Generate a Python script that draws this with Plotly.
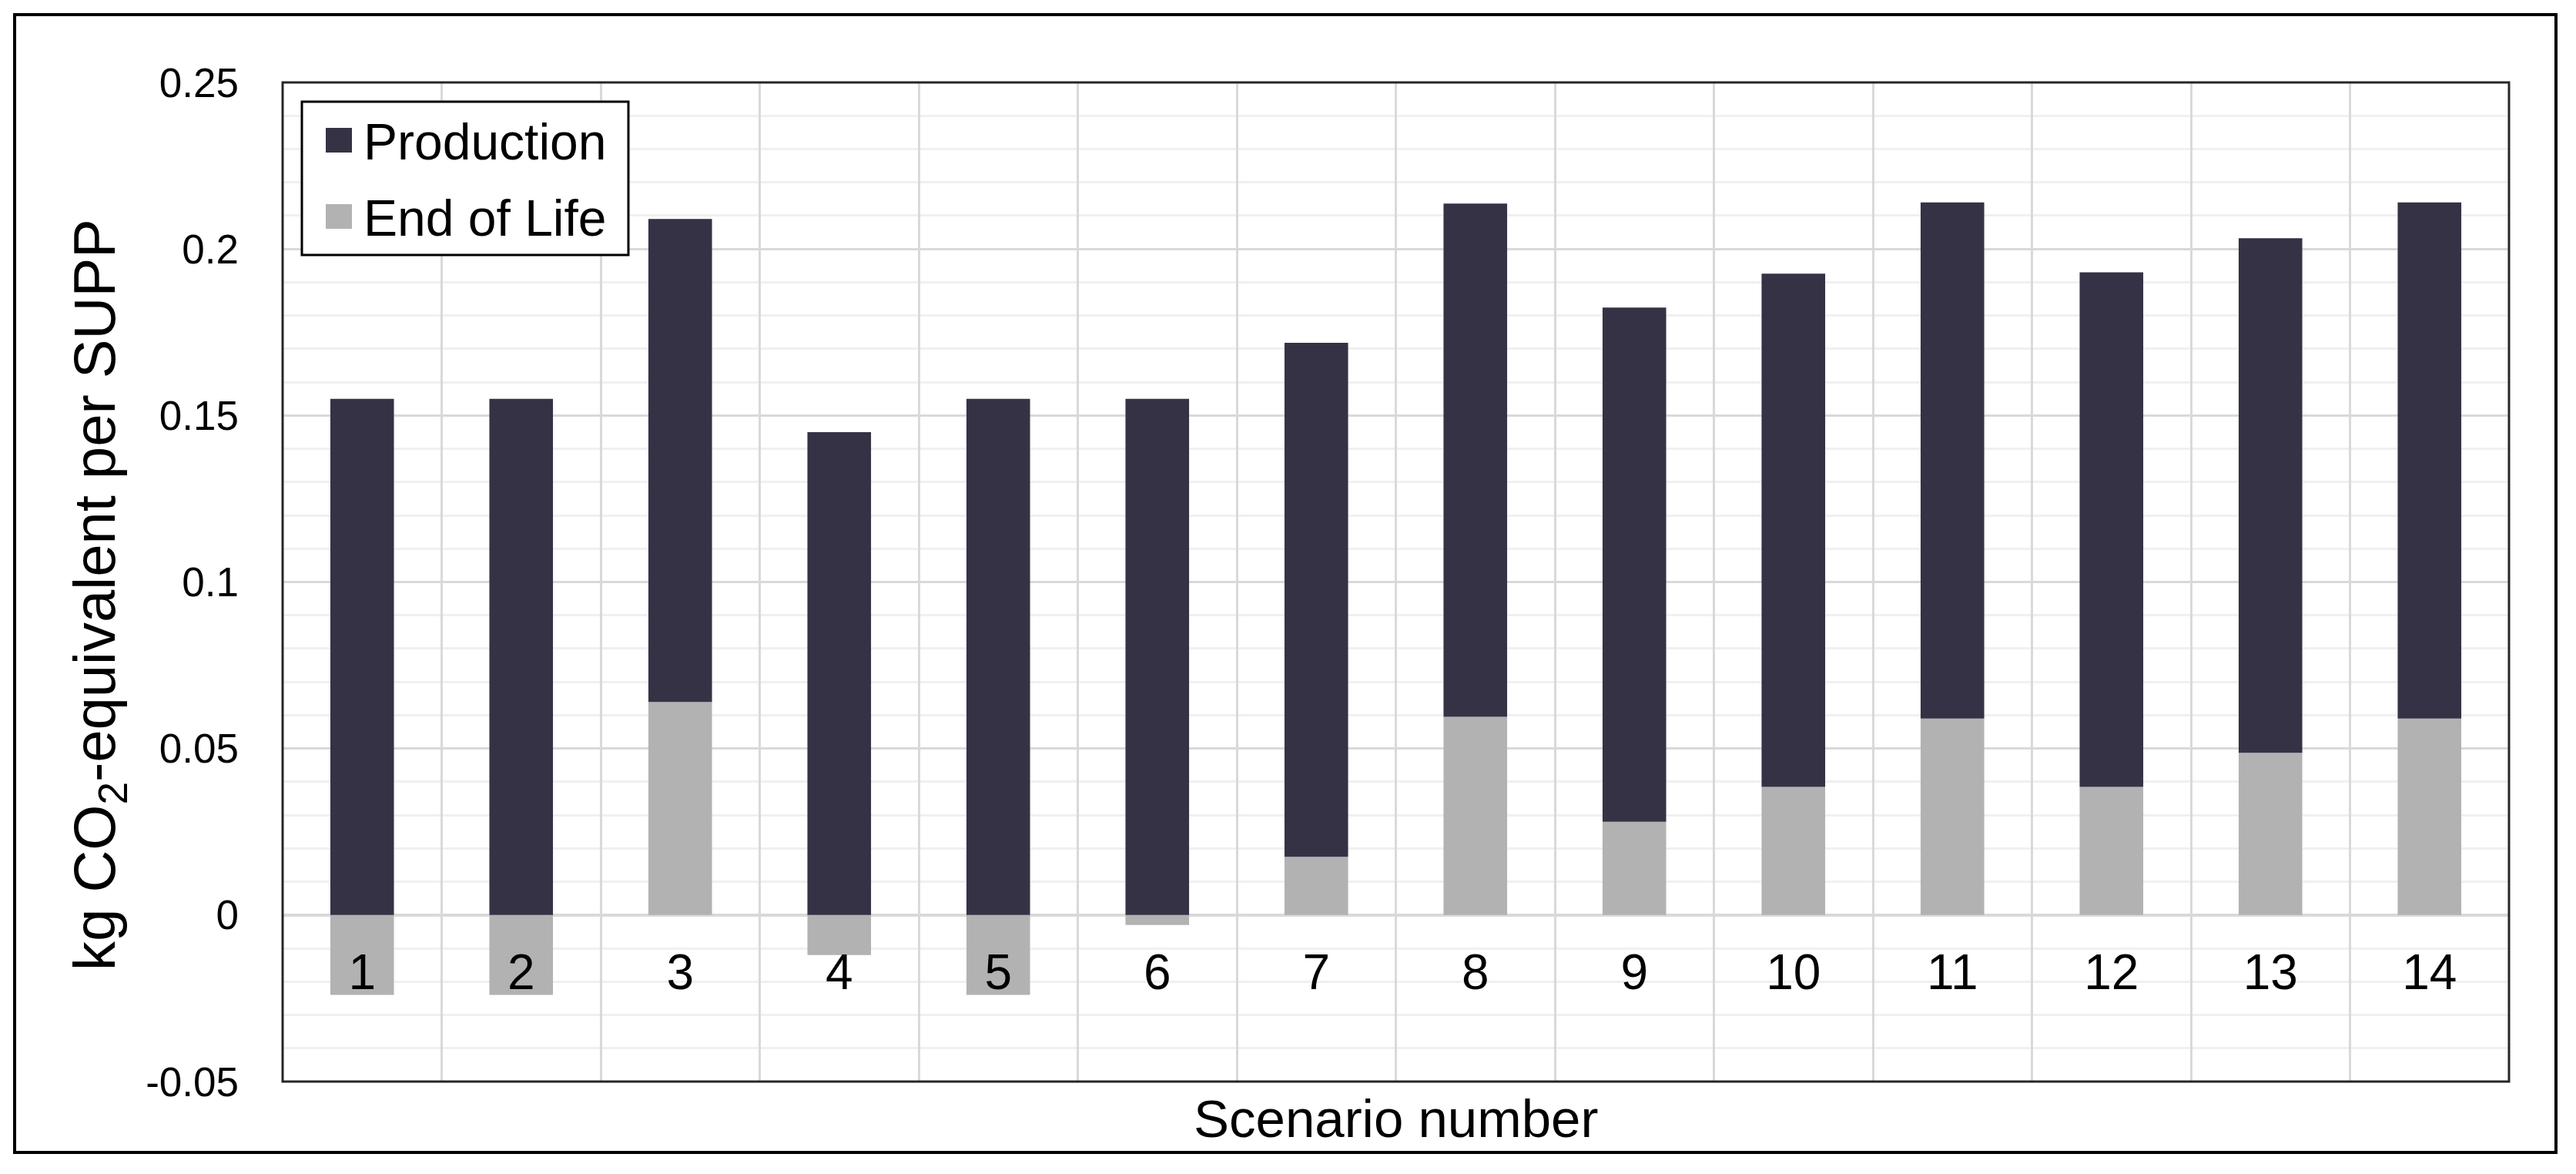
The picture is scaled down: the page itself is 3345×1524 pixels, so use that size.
import plotly.graph_objects as go

# ---- data ----
scenarios = ["1", "2", "3", "4", "5", "6", "7", "8", "9", "10", "11", "12", "13", "14"]
production = [0.155, 0.155, 0.145, 0.145, 0.155, 0.155, 0.1543, 0.1541, 0.1544, 0.1541, 0.155, 0.1545, 0.1545, 0.155]
end_of_life = [-0.024, -0.024, 0.064, -0.012, -0.024, -0.003, 0.0175, 0.0595, 0.028, 0.0385, 0.059, 0.0385, 0.0487, 0.059]
y_tick_vals = [-0.05, 0, 0.05, 0.1, 0.15, 0.2, 0.25]
y_tick_text = ["-0.05", "0", "0.05", "0.1", "0.15", "0.2", "0.25"]
y_range = [-0.05, 0.25]
series_names = ["Production", "End of Life"]
series_colors = ["#363245", "#b2b2b2"]

FONT = "Arial, Liberation Sans, sans-serif"
# the page body has an 8px margin; size the figure so it fits the window
OFF = 8
W, H = 3345 - 2 * OFF, 1524 - 2 * OFF
PLOT_L, PLOT_R, PLOT_T, PLOT_B = 367, 3258, 107, 1404   # window pixel coords
ML = PLOT_L - OFF
MT = PLOT_T - OFF
PW = PLOT_R - PLOT_L
PH = PLOT_B - PLOT_T
MR = W - ML - PW
MB = H - MT - PH


def px_to_paper_x(px):
    return (px - PLOT_L) / PW


def px_to_paper_y(py):
    return (PLOT_B - py) / PH


fig = go.Figure()
fig.add_trace(go.Bar(x=scenarios, y=end_of_life, name=series_names[1],
                     marker=dict(color=series_colors[1], line=dict(width=0)),
                     showlegend=False))
fig.add_trace(go.Bar(x=scenarios, y=production, name=series_names[0],
                     marker=dict(color=series_colors[0], line=dict(width=0)),
                     showlegend=False))

zero_pos = (0 - y_range[0]) / (y_range[1] - y_range[0])

fig.update_layout(
    width=W, height=H,
    margin=dict(l=ML, r=MR, t=MT, b=MB, autoexpand=False),
    paper_bgcolor="white", plot_bgcolor="white",
    barmode="relative", bargap=0.6,
    font=dict(family=FONT, color="black"),
    showlegend=False,
    xaxis=dict(
        type="category", automargin=False,
        anchor="free", position=zero_pos,
        showline=False, zeroline=False,
        showgrid=True, gridcolor="#d9d9d9", gridwidth=3,
        tickson="boundaries", ticks="",
        showticklabels=True,
        tickfont=dict(size=64, family=FONT, color="black"),
        ticklabelstandoff=31,
    ),
    yaxis=dict(
        range=y_range, automargin=False,
        tickmode="array", tickvals=y_tick_vals, ticktext=y_tick_text,
        tickfont=dict(size=53, family=FONT, color="black"),
        ticks="", ticklabelstandoff=56,
        showgrid=True, gridcolor="#d9d9d9", gridwidth=3,
        minor=dict(dtick=0.01, tick0=0, showgrid=True, gridcolor="#f0f0f0", gridwidth=3),
        zeroline=True, zerolinecolor="#d9d9d9", zerolinewidth=4,
        showline=False,
    ),
)

# y-axis title
fig.add_annotation(text="kg CO<sub>2</sub>-equivalent per SUPP", xref="paper", yref="paper",
                   x=px_to_paper_x(128), y=px_to_paper_y(772), textangle=-90,
                   xanchor="center", yanchor="middle", showarrow=False,
                   font=dict(size=76, family=FONT, color="black"))

# x-axis title (the category axis sits at y=0, title is under the plot)
fig.add_annotation(text="Scenario number", xref="paper", yref="paper",
                   x=0.5, y=px_to_paper_y(1453), xanchor="center", yanchor="middle",
                   showarrow=False, font=dict(size=69, family=FONT, color="black"))

# legend (drawn with large Excel-like square keys)
fig.add_shape(type="rect", xref="paper", yref="paper",
              x0=px_to_paper_x(392), x1=px_to_paper_x(816),
              y0=px_to_paper_y(331), y1=px_to_paper_y(132),
              line=dict(color="black", width=3), fillcolor="white", layer="above")
legend_rows_y = [182, 281]
for name, color, ry in zip(series_names, series_colors, legend_rows_y):
    fig.add_shape(type="rect", xref="paper", yref="paper",
                  x0=px_to_paper_x(423), x1=px_to_paper_x(457),
                  y0=px_to_paper_y(ry + 16), y1=px_to_paper_y(ry - 16),
                  line=dict(width=0), fillcolor=color, layer="above")
    fig.add_annotation(text=name, xref="paper", yref="paper",
                       x=px_to_paper_x(470), y=px_to_paper_y(ry + 2),
                       xanchor="left", yanchor="middle", showarrow=False,
                       font=dict(size=66, family=FONT, color="black"))

# plot area border
fig.add_shape(type="rect", xref="paper", yref="paper", x0=0, x1=1, y0=0, y1=1,
              line=dict(color="#262626", width=3), layer="above")
# outer chart frame
fig.add_shape(type="rect", xref="paper", yref="paper",
              x0=px_to_paper_x(19), x1=px_to_paper_x(3319),
              y0=px_to_paper_y(1496), y1=px_to_paper_y(19),
              line=dict(color="black", width=4), layer="above")

fig.write_html("out.html")
